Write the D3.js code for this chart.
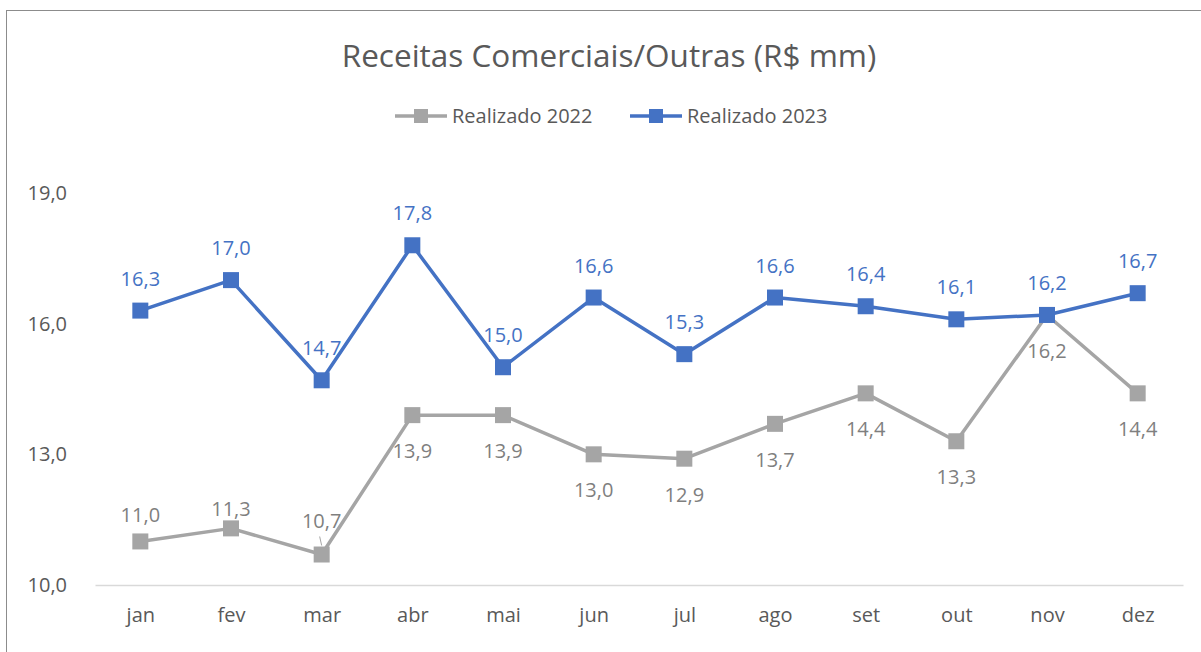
<!DOCTYPE html>
<html>
<head>
<meta charset="utf-8">
<script src="https://cdn.jsdelivr.net/npm/d3@7"></script>
<style>
  body { margin: 0; background: #fff; }
  svg { font-family: "Open Sans", "Noto Sans", sans-serif; }
</style>
</head>
<body>
<svg width="1201" height="652"></svg>
<script>
// chart data
const months = ['jan', 'fev', 'mar', 'abr', 'mai', 'jun', 'jul', 'ago', 'set', 'out', 'nov', 'dez']
const real2022 = [11.0, 11.3, 10.7, 13.9, 13.9, 13.0, 12.9, 13.7, 14.4, 13.3, 16.2, 14.4]
const real2023 = [16.3, 17.0, 14.7, 17.8, 15.0, 16.6, 15.3, 16.6, 16.4, 16.1, 16.2, 16.7]
const yTicks = [10, 13, 16, 19]
const seriesNames = ['Realizado 2022', 'Realizado 2023']

const svg = d3.select('svg')

// chart frame
svg.append('rect')
    .attr('x', 6.5).attr('y', 10.5)
    .attr('width', 1200).attr('height', 660)
    .attr('fill', 'none').attr('stroke', '#8c8c8c').attr('stroke-width', 1)

// title
svg.append('text')
    .attr('x', 609).attr('y', 67)
    .attr('text-anchor', 'middle')
    .attr('font-size', 31.5)
    .attr('fill', '#595959')
    .text('Receitas Comerciais/Outras (R$ mm)')

const xScale = d3.scalePoint()
    .domain(months)
    .range([95, 1183])
    .padding(0.5)

const yScale = d3.scaleLinear()
    .domain([10, 19])
    .range([585, 193])

// x axis
const xAxis = svg.append('g')
    .attr('transform', `translate(0,${yScale(10)})`)
    .call(d3.axisBottom(xScale).tickSize(0).tickPadding(23))
xAxis.select('.domain').attr('stroke', '#d9d9d9').attr('stroke-width', 1.5)
xAxis.selectAll('text')
    .attr('font-size', 20).attr('fill', '#595959')
    .attr('font-family', '"Open Sans", sans-serif')

// y axis (labels only)
const yAxis = svg.append('g')
    .attr('transform', 'translate(67,0)')
    .call(d3.axisLeft(yScale).tickValues(yTicks).tickSize(0).tickPadding(0)
        .tickFormat(d => d3.format('.1f')(d).replace('.', ',')))
yAxis.select('.domain').remove()
yAxis.selectAll('text')
    .attr('font-size', 20).attr('fill', '#595959')
    .attr('font-family', '"Open Sans", sans-serif')

const fmt = v => d3.format('.1f')(v).replace('.', ',')

// label offsets (baseline relative to the point), Excel put some labels a bit closer
const series = [
    {name: seriesNames[0], values: real2022, color: '#a5a5a5', labelColor: '#7f7f7f',
        dy: [-19, -12, -27, 43, 43, 43, 43, 43, 43, 43, 43, 43]},
    {name: seriesNames[1], values: real2023, color: '#4472c4', labelColor: '#4472c4',
        dy: months.map(() => -25)}
]

const line = d3.line()
    .x((d, i) => xScale(months[i]))
    .y(d => yScale(d))

series.forEach(s => {
    const g = svg.append('g')
    g.append('path')
        .datum(s.values)
        .attr('d', line)
        .attr('fill', 'none')
        .attr('stroke', s.color)
        .attr('stroke-width', 3.5)
        .attr('stroke-linejoin', 'round')

    g.selectAll('rect').data(s.values)
        .enter().append('rect')
            .attr('x', (d, i) => xScale(months[i]) - 8)
            .attr('y', d => yScale(d) - 8)
            .attr('width', 16).attr('height', 16)
            .attr('fill', s.color)

    g.selectAll('text').data(s.values)
        .enter().append('text')
            .attr('x', (d, i) => xScale(months[i]))
            .attr('y', (d, i) => yScale(d) + s.dy[i])
            .attr('text-anchor', 'middle')
            .attr('font-size', 20)
            .attr('fill', s.labelColor)
            .text(fmt)
})

// little leader line for the mar 2022 label
svg.append('line')
    .attr('x1', xScale('mar') - 2).attr('y1', yScale(real2022[2]) - 18)
    .attr('x2', xScale('mar')).attr('y2', yScale(real2022[2]) - 9)
    .attr('stroke', '#a5a5a5').attr('stroke-width', 1)

// legend
const legendItems = [
    {name: seriesNames[0], color: '#a5a5a5', x: 395},
    {name: seriesNames[1], color: '#4472c4', x: 630}
]
const legend = svg.append('g').attr('transform', 'translate(0,116)')
legendItems.forEach(d => {
    legend.append('line')
        .attr('x1', d.x).attr('x2', d.x + 52)
        .attr('stroke', d.color).attr('stroke-width', 3.5)
    legend.append('rect')
        .attr('x', d.x + 19).attr('y', -7)
        .attr('width', 14).attr('height', 14)
        .attr('fill', d.color)
    legend.append('text')
        .attr('x', d.x + 57).attr('y', 7)
        .attr('font-size', 20).attr('fill', '#595959')
        .text(d.name)
})
</script>
</body>
</html>
